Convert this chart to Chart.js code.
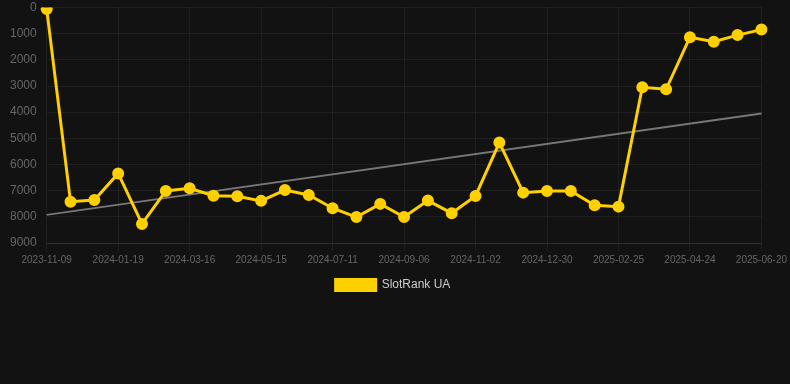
<!DOCTYPE html>
<html>
<head>
<meta charset="utf-8">
<script src="https://cdn.jsdelivr.net/npm/chart.js@4"></script>
<style>
  html, body { margin:0; padding:0; background:#121212; }
  #wrap { width:790px; height:301px; position:relative; }
</style>
</head>
<body>
<div id="wrap"><canvas id="c"></canvas></div>
<script>
const categories = [
  "2023-11-09","2023-11-30","2023-12-25","2024-01-19","2024-02-07","2024-02-26",
  "2024-03-16","2024-04-05","2024-04-25","2024-05-15","2024-06-03","2024-06-22",
  "2024-07-11","2024-07-30","2024-08-18","2024-09-06","2024-09-25","2024-10-14",
  "2024-11-02","2024-11-21","2024-12-11","2024-12-30","2025-01-18","2025-02-06",
  "2025-02-25","2025-03-16","2025-04-05","2025-04-24","2025-05-13","2025-06-01",
  "2025-06-20"
];
const rankValues = [
  60, 7420, 7355, 6340, 8270, 7010, 6910, 7190, 7215, 7390, 6975, 7165,
  7670, 8010, 7505, 8010, 7380, 7860, 7200, 5160, 7075, 7010, 7010, 7555,
  7610, 3050, 3125, 1135, 1310, 1055, 845
];
const trendValues = [7925].concat(new Array(29).fill(null), [4050]);
const yTicks = [0,1000,2000,3000,4000,5000,6000,7000,8000,9000];

Chart.defaults.font.family = "'Liberation Sans', Arial, sans-serif";

new Chart(document.getElementById('c'), {
  type: 'line',
  data: {
    labels: categories,
    datasets: [
      {
        label: 'SlotRank UA',
        data: rankValues,
        borderColor: '#FFD000',
        backgroundColor: '#FFD000',
        borderWidth: 3,
        pointRadius: 4.5,
        pointHoverRadius: 4.5,
        pointBackgroundColor: '#FFD000',
        pointBorderColor: '#FFD000',
        tension: 0
      },
      {
        label: 'trend',
        data: trendValues,
        borderColor: '#777777',
        borderWidth: 2,
        pointRadius: 0,
        spanGaps: true,
        fill: false
      }
    ]
  },
  options: {
    responsive: true,
    maintainAspectRatio: false,
    animation: false,
    layout: { padding: { left: 0, right: 4 } },
    plugins: {
      legend: {
        position: 'bottom',
        labels: {
          color: '#cccccc',
          font: { size: 12 },
          boxWidth: 40,
          boxHeight: 11,
          filter: (item) => item.datasetIndex === 0
        }
      },
      tooltip: { enabled: false }
    },
    scales: {
      x: {
        grid: { color: 'rgba(255,255,255,0.06)', tickColor: 'rgba(255,255,255,0.06)' },
        border: { color: 'rgba(255,255,255,0.08)' },
        ticks: {
          color: '#666666',
          font: { size: 10 },
          maxRotation: 0,
          autoSkip: true,
          maxTicksLimit: 11
        }
      },
      y: {
        reverse: true,
        min: 0,
        max: 9000,
        afterBuildTicks: (axis) => { axis.ticks = yTicks.map(v => ({ value: v })); },
        afterFit: (s) => { s.paddingTop = 7; s.paddingBottom = 7; },
        grid: { color: 'rgba(255,255,255,0.06)', drawTicks: false },
        border: { display: false },
        ticks: {
          color: '#666666',
          font: { size: 12 },
          padding: 10,
          callback: (v) => String(v)
        }
      }
    }
  }
});
</script>
</body>
</html>
